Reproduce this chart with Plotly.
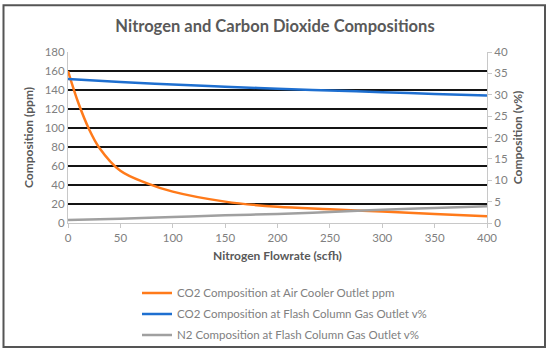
import plotly.graph_objects as go

flow = [0, 10, 20, 30, 50, 75, 100, 150, 200, 250, 300, 350, 400]
co2_ppm = [160, 126, 99, 79, 55, 42, 33, 22.5, 17, 14.5, 12, 9.5, 7]
flow_v = [0, 50, 100, 150, 200, 250, 300, 350, 400]
co2_vpct = [33.7, 33.0, 32.4, 31.9, 31.4, 31.0, 30.6, 30.2, 29.8]
n2_vpct = [0.7, 1.0, 1.4, 1.8, 2.1, 2.6, 3.1, 3.5, 3.9]

FONT = "Lato"
GRAY = "#808080"
TITLE_GRAY = "#595959"

W, H = 550, 362
L, R, T, B = 68, 63, 52, 134
pw, ph = W - L - R, H - T - B

fig = go.Figure()
fig.add_trace(go.Scatter(x=flow, y=co2_ppm, mode="lines", line=dict(color="#FF7A1A", width=2.5, shape="spline"),
                         name="CO2 Composition at Air Cooler Outlet ppm", yaxis="y", legendgroup="a"))
fig.add_trace(go.Scatter(x=flow_v, y=co2_vpct, mode="lines", line=dict(color="#1E6FD0", width=2.5, shape="spline"),
                         name="CO2 Composition at Flash Column Gas Outlet v%", yaxis="y2", legendgroup="b"))
fig.add_trace(go.Scatter(x=flow_v, y=n2_vpct, mode="lines", line=dict(color="#A0A0A0", width=2.5, shape="spline"),
                         name="N2 Composition at Flash Column Gas Outlet v%", yaxis="y2", legendgroup="c"))

def px(x):
    return (x - L) / pw

def py(y):
    return (H - B - y) / ph

fig.update_layout(
    width=W, height=H,
    margin=dict(l=L, r=R, t=T, b=B),
    paper_bgcolor="white", plot_bgcolor="white",
    font=dict(family=FONT, color=GRAY, size=11),
    title=dict(text="<b>Nitrogen and Carbon Dioxide Compositions</b>", x=0.5, xanchor="center",
               y=1 - 26 / H, yanchor="middle", font=dict(size=16.5, color=TITLE_GRAY, family=FONT)),
    xaxis=dict(range=[0, 400], tickvals=[0, 50, 100, 150, 200, 250, 300, 350, 400],
               showgrid=False, zeroline=False, showline=True, linecolor="#c8c8c8", linewidth=1,
               ticks="outside", ticklen=4, tickcolor="#c8c8c8",
               title=dict(text="<b>Nitrogen Flowrate (scfh)</b>", font=dict(size=12, color=TITLE_GRAY), standoff=8),
               tickfont=dict(size=11.5, color=GRAY)),
    yaxis=dict(range=[0, 180], dtick=20, showgrid=True, gridcolor="#141414", gridwidth=1.6,
               zeroline=False, showline=True, linecolor="#c8c8c8", linewidth=1,
               title=dict(text="<b>Composition (ppm)</b>", font=dict(size=12, color=TITLE_GRAY), standoff=8),
               tickfont=dict(size=11.5, color=GRAY)),
    yaxis2=dict(range=[0, 40], dtick=5, overlaying="y", side="right", showgrid=False, zeroline=False,
                showline=True, linecolor="#c8c8c8", linewidth=1, ticks="outside", ticklen=4, tickcolor="#c8c8c8",
                title=dict(text="<b>Composition (v%)</b>", font=dict(size=12, color=TITLE_GRAY), standoff=6),
                tickfont=dict(size=11.5, color=GRAY)),
    legend=dict(x=px(137), y=py(285), xanchor="left", yanchor="top", bgcolor="rgba(0,0,0,0)",
                font=dict(size=11.5, color=GRAY), tracegroupgap=2, itemwidth=30),
    showlegend=True,
    shapes=[dict(type="rect", xref="paper", yref="paper", x0=px(3.5), x1=px(545), y0=py(355.5), y1=py(4),
                 line=dict(color="#555555", width=2), fillcolor="rgba(0,0,0,0)", layer="below")],
)

fig.write_html("out.html", config={"displayModeBar": False},
               post_script="document.body.style.margin='0';document.body.style.overflow='hidden';")
